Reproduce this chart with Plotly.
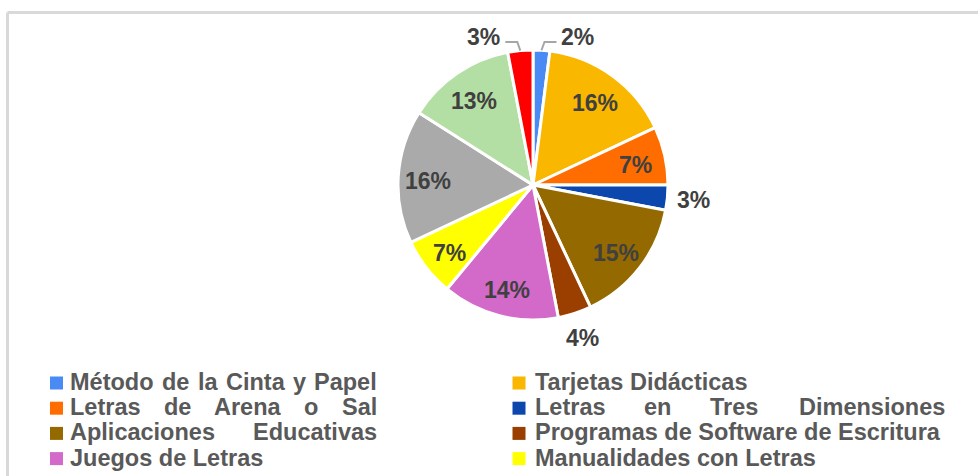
import math
import plotly.graph_objects as go

# ---------------- data ----------------
categories = [
    "Método de la Cinta y Papel",
    "Tarjetas Didácticas",
    "Letras de Arena o Sal",
    "Letras en Tres Dimensiones",
    "Aplicaciones Educativas",
    "Programas de Software de Escritura",
    "Juegos de Letras",
    "Manualidades con Letras",
    "Otra estrategia A",
    "Otra estrategia B",
    "Otra estrategia C",
]
values = [2, 16, 7, 3, 15, 4, 14, 7, 16, 13, 3]
colors = ["#4A8AF4", "#F9B700", "#FF6D00", "#0B47AC", "#936900",
          "#9A3F00", "#D36ACA", "#FFFF00", "#AAAAAA", "#B4DFA4", "#FF0000"]
visible_legend_items = 8  # the reference legend is cut off after 8 entries

# ---------------- geometry / style ----------------
W, H = 978, 476
CX, CY, R = 533, 185, 135
LABEL_FONT = dict(family="Liberation Sans, Arial", size=23, color="#404040", weight="bold")
LEG_FONT = dict(family="Liberation Sans, Arial", size=23.5, color="#595959", weight="bold")


def px(x):
    return x / W


def py(y):
    return 1 - y / H


fig = go.Figure()
fig.add_trace(go.Pie(
    labels=categories, values=values, sort=False, direction="clockwise", rotation=0,
    marker=dict(colors=colors, line=dict(color="white", width=3)),
    textinfo="none", showlegend=False, hoverinfo="label+percent",
    domain=dict(x=[px(CX - R), px(CX + R)], y=[py(CY + R), py(CY - R)]),
))

annotations = []
shapes = []

# ---------------- data labels ----------------
total = sum(values)
cum = 0
for v in values:
    mid = (cum + v / 2) / total * 2 * math.pi
    cum += v
    s, c = math.sin(mid), -math.cos(mid)   # c < 0 means above the centre
    txt = f"{round(v / total * 100)}%"
    if v / total >= 0.05:
        rho = 0.78 * R
        annotations.append(dict(x=px(CX + rho * s), y=py(CY + rho * c + 3), text=txt,
                                showarrow=False, font=LABEL_FONT, xref="paper", yref="paper",
                                xanchor="center", yanchor="middle"))
    elif c < -0.9:  # small slice at the top: leader line to a side label
        side = 1 if s >= 0 else -1
        ex, ey = CX + R * s, CY + R * c
        ly = CY - R - 8
        pts = [(ex, ey), (ex + side * 3, ly), (ex + side * 15, ly)]
        path = "M " + " L ".join(f"{px(a)},{py(b)}" for a, b in pts)
        shapes.append(dict(type="path", path=path, xref="paper", yref="paper",
                           line=dict(color="#A6A6A6", width=2)))
        annotations.append(dict(x=px(ex + side * 18), y=py(ly - 5), text=txt, showarrow=False,
                                font=LABEL_FONT, xref="paper", yref="paper",
                                xanchor="left" if side > 0 else "right", yanchor="middle"))
    else:
        rho = R + 26
        annotations.append(dict(x=px(CX + rho * s), y=py(CY + rho * c), text=txt,
                                showarrow=False, font=LABEL_FONT, xref="paper", yref="paper",
                                xanchor="center", yanchor="middle"))

# ---------------- legend (two columns, justified lines) ----------------
CW = {" ": 278, "%": 889, "A": 722, "C": 722, "D": 722, "E": 667, "J": 556, "L": 611,
      "M": 833, "P": 667, "S": 667, "T": 611, "a": 556, "c": 556, "d": 611, "e": 556,
      "f": 333, "g": 611, "i": 278, "j": 278, "l": 278, "m": 889, "n": 611, "o": 611,
      "p": 611, "r": 389, "s": 556, "t": 333, "u": 611, "v": 556, "w": 778, "y": 556,
      "á": 556, "é": 556}


def text_w(t, size):
    return sum(CW.get(ch, 556) for ch in t) / 1000 * size


col_sq_x = [50, 512.5]
col_txt_x = [68, 533]
col_width = [307, 410]
justify = [True, False, True, True, True, False, False, False]
row_y0, row_dy = 383, 25.2
for i in range(visible_legend_items):
    col, row = i % 2, i // 2
    yc = row_y0 + row * row_dy
    shapes.append(dict(type="rect", xref="paper", yref="paper",
                       x0=px(col_sq_x[col]), x1=px(col_sq_x[col] + 13),
                       y0=py(yc + 6.5), y1=py(yc - 6.5),
                       fillcolor=colors[i], line=dict(width=0)))
    words = categories[i].split(" ")
    if justify[i] and len(words) > 1:
        size = LEG_FONT["size"]
        widths = [text_w(w_, size) for w_ in words]
        gap = (col_width[col] - sum(widths)) / (len(words) - 1)
        x = col_txt_x[col]
        for w_, ww in zip(words, widths):
            annotations.append(dict(x=px(x), y=py(yc - 1), text=w_, showarrow=False,
                                    font=LEG_FONT, xref="paper", yref="paper",
                                    xanchor="left", yanchor="middle"))
            x += ww + gap
    else:
        annotations.append(dict(x=px(col_txt_x[col]), y=py(yc - 1), text=categories[i],
                                showarrow=False, font=LEG_FONT, xref="paper", yref="paper",
                                xanchor="left", yanchor="middle"))

# ---------------- chart border (top and left edges visible) ----------------
shapes.append(dict(type="line", xref="paper", yref="paper", x0=px(7.5), x1=px(W + 5),
                   y0=py(12.5), y1=py(12.5), line=dict(color="#D9D9D9", width=3)))
shapes.append(dict(type="line", xref="paper", yref="paper", x0=px(7.5), x1=px(7.5),
                   y0=py(12.5), y1=py(H + 5), line=dict(color="#D9D9D9", width=3)))

fig.update_layout(width=W, height=H, margin=dict(l=0, r=0, t=0, b=0),
                  paper_bgcolor="white", plot_bgcolor="white",
                  annotations=annotations, shapes=shapes)

fig.write_html("out.html", config={"displayModeBar": False},
               post_script="document.body.style.margin='0';document.body.style.overflow='hidden';")
